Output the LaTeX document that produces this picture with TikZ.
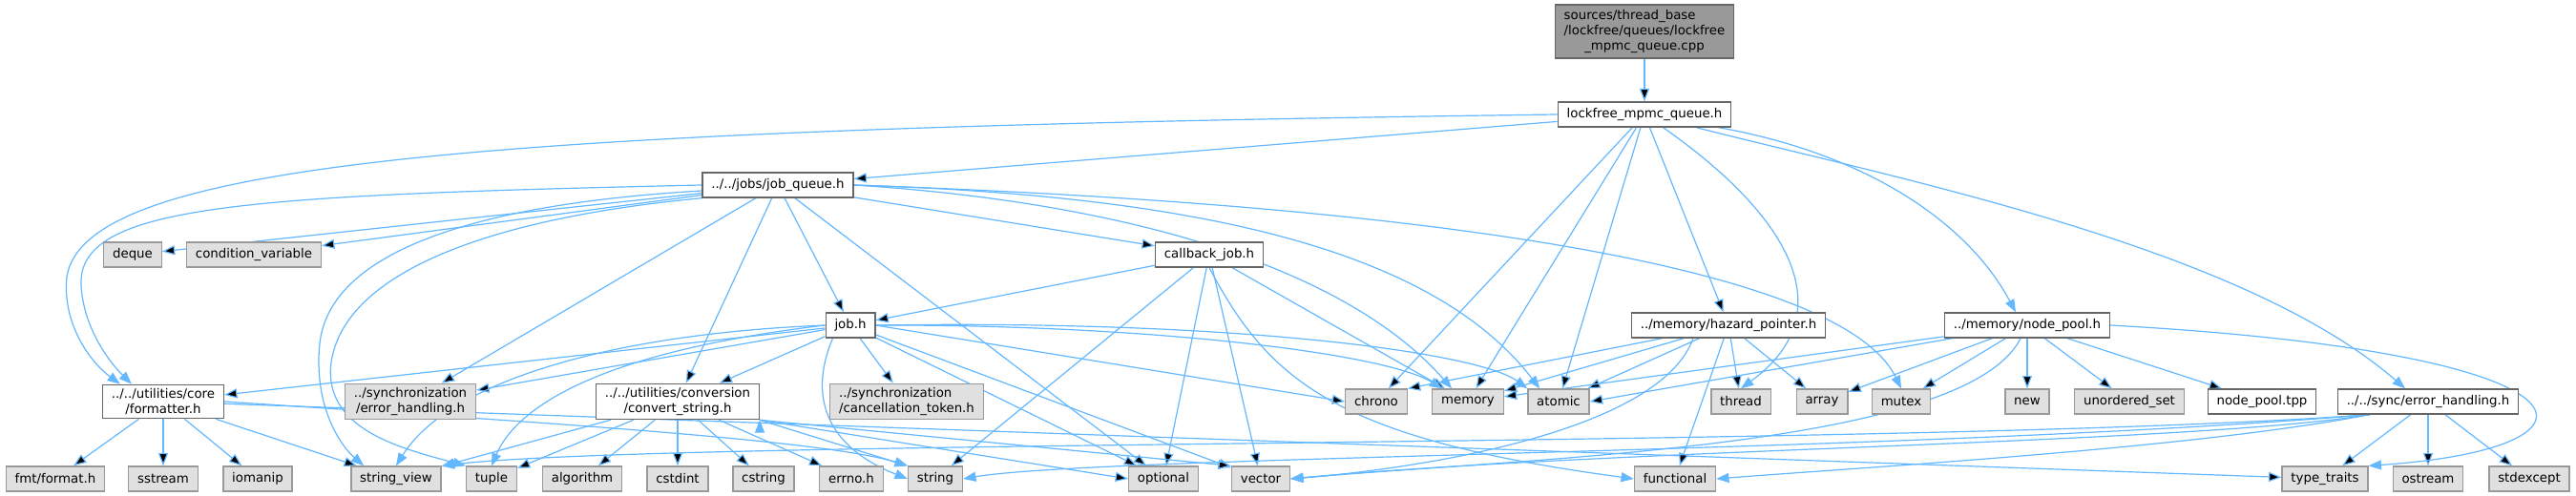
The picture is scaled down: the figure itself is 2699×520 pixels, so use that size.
\documentclass[tikz,border=0pt]{standalone}
\usepackage{fontspec}
\setmainfont{DejaVu Sans}
\usetikzlibrary{arrows.meta,positioning,calc,backgrounds}
\definecolor{edgeblue}{HTML}{63B8FF}
\definecolor{boxgray}{HTML}{E0E0E0}
\definecolor{linegray}{HTML}{999999}
\definecolor{framegray}{HTML}{666666}
\tikzset{
  hdr/.style={draw=framegray, fill=white, line width=1pt, font=\fontsize{10}{12}\selectfont,
    inner xsep=7pt, inner ysep=3pt, minimum height=19.5pt, align=center},
  sys/.style={hdr, draw=linegray, fill=boxgray},
  src/.style={hdr, draw=framegray, fill=linegray},
  dep/.style={-{Triangle[length=10pt,width=7.5pt]}, draw=edgeblue, line width=0.9pt}
}
\begin{document}
\begin{tikzpicture}[x=0.75pt, y=-0.75pt]
  \node[src] (top) at (1723,33) {\begin{tabular}{@{}l@{}}sources/thread\_base\\/lockfree/queues/lockfree\\\multicolumn{1}{@{}c@{}}{\_mpmc\_queue.cpp}\end{tabular}};
  \node[hdr] (lf) at (1723,120) {lockfree\_mpmc\_queue.h};
  \node[hdr] (jq) at (815,194) {../../jobs/job\_queue.h};
  \node[sys] (deque) at (139,267) {deque};
  \node[sys] (condvar) at (266,267) {condition\_variable};
  \node[hdr] (cbjob) at (1267,267) {callback\_job.h};
  \node[hdr] (job) at (891,341) {job.h};
  \node[hdr] (hp) at (1811,341) {../memory/hazard\_pointer.h};
  \node[hdr] (np) at (2124,341) {../memory/node\_pool.h};
  \node[hdr] (fmtr) at (171,421) {../../utilities/core\\/formatter.h};
  \node[sys] (syncerr) at (430,421) {../synchronization\\/error\_handling.h};
  \node[hdr] (convstr) at (710,421) {../../utilities/conversion\\/convert\_string.h};
  \node[sys, align=left] (canceltok) at (950,421) {../synchronization\\/cancellation\_token.h};
  \node[sys] (chrono) at (1442,421) {chrono};
  \node[sys] (memory) at (1538,421) {memory};
  \node[sys] (atomic) at (1633,421) {atomic};
  \node[sys] (thread) at (1824,421) {thread};
  \node[sys] (array) at (1909,421) {array};
  \node[sys] (mutex) at (1992,421) {mutex};
  \node[sys] (new) at (2124,421) {new};
  \node[sys] (unordset) at (2231,421) {unordered\_set};
  \node[hdr] (pooltpp) at (2370,421) {node\_pool.tpp};
  \node[hdr] (lerr) at (2544,421) {../../sync/error\_handling.h};
  \node[sys] (fmtlib) at (58,502) {fmt/format.h};
  \node[sys] (sstream) at (171,502) {sstream};
  \node[sys] (iomanip) at (270,502) {iomanip};
  \node[sys] (strview) at (415,502) {string\_view};
  \node[sys] (tuple) at (515,502) {tuple};
  \node[sys] (algorithm) at (610,502) {algorithm};
  \node[sys] (cstdint) at (710,502) {cstdint};
  \node[sys] (cstring) at (800,502) {cstring};
  \node[sys] (errno) at (892,502) {errno.h};
  \node[sys] (string) at (980,502) {string};
  \node[sys] (optional) at (1219,502) {optional};
  \node[sys] (vector) at (1321,502) {vector};
  \node[sys] (functional) at (1755,502) {functional};
  \node[sys] (typetraits) at (2436,502) {type\_traits};
  \node[sys] (ostream) at (2544,502) {ostream};
  \node[sys] (stdexcept) at (2650,502) {stdexcept};
  \begin{pgfonlayer}{background}
  \path[use as bounding box, fill=white] (0,0) rectangle (2699,520);
  \path[dep]
    (top) edge (lf)
    (lf) edge (jq)
    (lf) edge (chrono)
    (lf) edge (memory)
    (lf) edge (atomic)
    (lf) edge (hp)
    (jq) edge (deque)
    (jq) edge (condvar)
    (jq) edge (syncerr)
    (jq) edge (convstr)
    (jq) edge (job)
    (jq) edge (cbjob)
    (jq) edge (optional)
    (cbjob) edge (job)
    (cbjob) edge (string)
    (cbjob) edge (optional)
    (cbjob) edge (vector)
    (cbjob) edge (memory)
    (job) edge (fmtr)
    (job) edge (syncerr)
    (job) edge (convstr)
    (job) edge (canceltok)
    (job) edge (optional)
    (job) edge (vector)
    (job.east) edge (chrono.west)
    (fmtr) edge (fmtlib)
    (fmtr) edge (sstream)
    (fmtr) edge (iomanip)
    (fmtr) edge (strview)
    (fmtr) edge (typetraits)
    (convstr) edge (strview)
    (convstr) edge (tuple)
    (convstr) edge (algorithm)
    (convstr) edge (cstdint)
    (convstr) edge (cstring)
    (convstr) edge (errno)
    (convstr.south east) edge (string.north west)
    (convstr.south east) edge (optional.west)
    (convstr.south east) edge (vector.north west)
    (hp) edge (chrono.north east)
    (hp) edge (memory)
    (hp) edge (atomic)
    (hp) edge (thread)
    (hp) edge (array)
    (hp) edge (functional)
    (np) edge (memory)
    (np) edge (atomic.east)
    (np) edge (array)
    (np) edge (mutex)
    (np) edge (new)
    (np) edge (unordset)
    (np) edge (pooltpp)
    (lerr) edge (typetraits)
    (lerr) edge (ostream)
    (lerr) edge (stdexcept);
  \draw[dep] (lf.west) .. controls (500,135) and (90,170) .. (70,290) .. controls (65,340) and (95,380) .. ($(fmtr.north west)+(19,0)$);
  \draw[dep] (lf) .. controls (1880,230) and (1930,330) .. (thread.north);
  \draw[dep] (lf) .. controls (1950,160) and (2060,230) .. ($(np.north)+(-12,0)$);
  \draw[dep] (lf) .. controls (2000,190) and (2350,260) .. ($(lerr.north)+(-24,0)$);
  \draw[dep] (jq.west) .. controls (250,205) and (80,215) .. (85,300) .. controls (88,345) and (115,380) .. ($(fmtr.north west)+(31,0)$);
  \draw[dep] ($(jq.west)+(0,6)$) .. controls (480,215) and (345,270) .. (335,360) .. controls (328,430) and (360,470) .. ($(strview.north west)+(14,0)$);
  \draw[dep] (jq.south west) .. controls (500,230) and (360,290) .. (347,380) .. controls (338,450) and (420,470) .. (tuple.north west);
  \draw[dep] (jq.east) .. controls (1150,210) and (1400,270) .. ($(memory.north west)+(21,0)$);
  \draw[dep] (jq.east) .. controls (1250,205) and (1500,260) .. ($(atomic.north west)+(13,0)$);
  \draw[dep] (jq.east) .. controls (1500,215) and (1930,280) .. (mutex.north);
  \draw[dep] (cbjob.south) .. controls (1330,400) and (1400,460) .. (functional.west);
  \draw[dep] (job.west) .. controls (640,350) and (470,400) .. (strview.north);
  \draw[dep] (job.west) .. controls (620,370) and (540,430) .. (tuple.north);
  \draw[dep] ($(job.south west)+(8,0)$) .. controls (845,420) and (870,470) .. (string.west);
  \draw[dep] (job.east) .. controls (1200,340) and (1450,370) .. ($(memory.north west)+(11,0)$);
  \draw[dep] (job.east) .. controls (1300,335) and (1550,370) .. (atomic.north west);
  \draw[dep] (fmtr.east) .. controls (520,440) and (860,460) .. (string.north west);
  \draw[dep] ($(hp.south)+(-37,0)$) .. controls (1740,450) and (1500,490) .. (vector.east);
  \draw[dep] ($(np.south)+(-7,0)$) .. controls (2060,470) and (1600,480) .. (vector.east);
  \draw[dep] (np.east) .. controls (2740,370) and (2750,470) .. (typetraits.north east);
  \draw[dep] ($(lerr.south west)+(34,0)$) .. controls (2300,470) and (1950,490) .. (functional.east);
  \draw[dep] ($(lerr.south west)+(34,0)$) .. controls (2300,465) and (1700,470) .. (vector.east);
  \draw[dep] ($(lerr.south west)+(34,0)$) .. controls (2000,475) and (1150,478) .. (string.east);
  \draw[dep] ($(lerr.south west)+(34,0)$) .. controls (2000,470) and (700,460) .. (strview.north east);
  \end{pgfonlayer}
\end{tikzpicture}
\end{document}
